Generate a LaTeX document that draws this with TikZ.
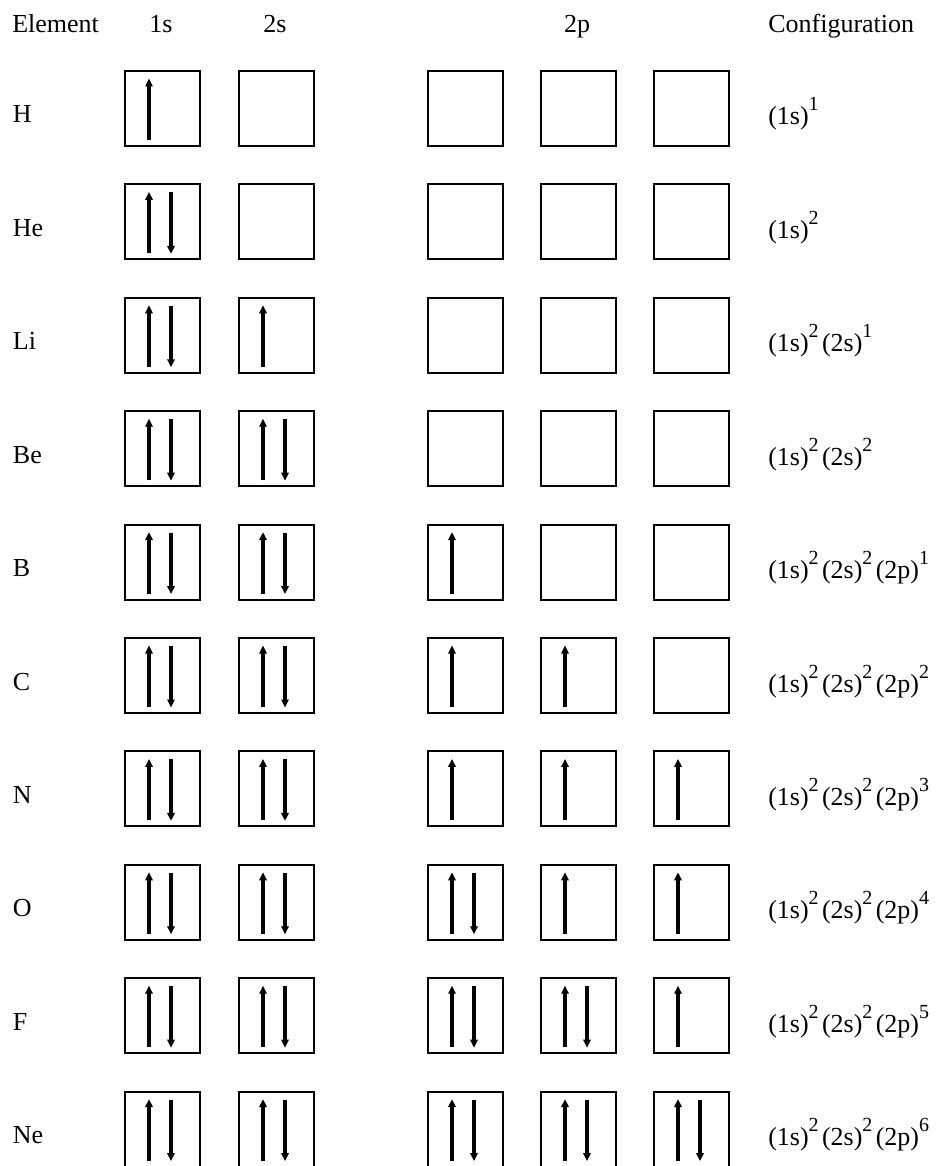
\documentclass[tikz,border=0pt]{standalone}
\usepackage{fontspec}
\setmainfont{Liberation Serif}
\usetikzlibrary{arrows.meta}
\newcommand\sps[1]{\raisebox{10.5pt}{\fontsize{15}{17}\selectfont #1}\hspace{2.5pt}}
\begin{document}
\begin{tikzpicture}[x=0.75pt,y=-0.75pt,
  orb/.style={draw,line width=1.5pt,minimum size=56.25pt,inner sep=0pt,outer sep=0pt},
  lbl/.style={anchor=base west,inner sep=0pt,font=\fontsize{19.5}{23}\selectfont},
  cfgs/.style={anchor=base west,inner sep=0pt,font=\fontsize{19.5}{23}\selectfont},
  hdr/.style={anchor=base,inner sep=0pt,font=\fontsize{19.5}{23}\selectfont},
  spin/.style={line width=3pt,-{Triangle[width=5.5pt,length=6pt]}}]
\useasboundingbox (0,0) rectangle (939,1166);
% headers
\node[lbl] (hE) at (12,33) {Element};
\node[hdr] (h1s) at (161,33) {1s};
\node[hdr] (h2s) at (275,33) {2s};
\node[hdr] (h2p) at (577,33) {2p};
\node[lbl] (hC) at (768,33) {Configuration};
% rows
\foreach \el/\a/\b/\c/\d/\e/\cfg [count=\i from 0] in {
  H/1/0/0/0/0/{(1s)\sps{1}},
  He/2/0/0/0/0/{(1s)\sps{2}},
  Li/2/1/0/0/0/{(1s)\sps{2}(2s)\sps{1}},
  Be/2/2/0/0/0/{(1s)\sps{2}(2s)\sps{2}},
  B/2/2/1/0/0/{(1s)\sps{2}(2s)\sps{2}(2p)\sps{1}},
  C/2/2/1/1/0/{(1s)\sps{2}(2s)\sps{2}(2p)\sps{2}},
  N/2/2/1/1/1/{(1s)\sps{2}(2s)\sps{2}(2p)\sps{3}},
  O/2/2/2/1/1/{(1s)\sps{2}(2s)\sps{2}(2p)\sps{4}},
  F/2/2/2/2/1/{(1s)\sps{2}(2s)\sps{2}(2p)\sps{5}},
  Ne/2/2/2/2/2/{(1s)\sps{2}(2s)\sps{2}(2p)\sps{6}}} {
  \pgfmathsetmacro\t{70+113.4*\i}
  \node[lbl] (el\i) at (12.7,\t+53) {\el};
  \node[cfgs] (cf\i) at (768,\t+55) {\cfg};
  \foreach \n/\x [count=\j] in {\a/124,\b/238,\c/427,\d/540,\e/653} {
    \node[orb] (b\i-\j) at (\x+38.5,\t+38.5) {};
    \ifnum\n>0
      \draw[spin] ([shift={(24,69)}]b\i-\j.north west) -- ([shift={(24,7.5)}]b\i-\j.north west);
    \fi
    \ifnum\n>1
      \draw[spin] ([shift={(46,8)}]b\i-\j.north west) -- ([shift={(46,69.5)}]b\i-\j.north west);
    \fi
  }
}
\end{tikzpicture}
\end{document}
